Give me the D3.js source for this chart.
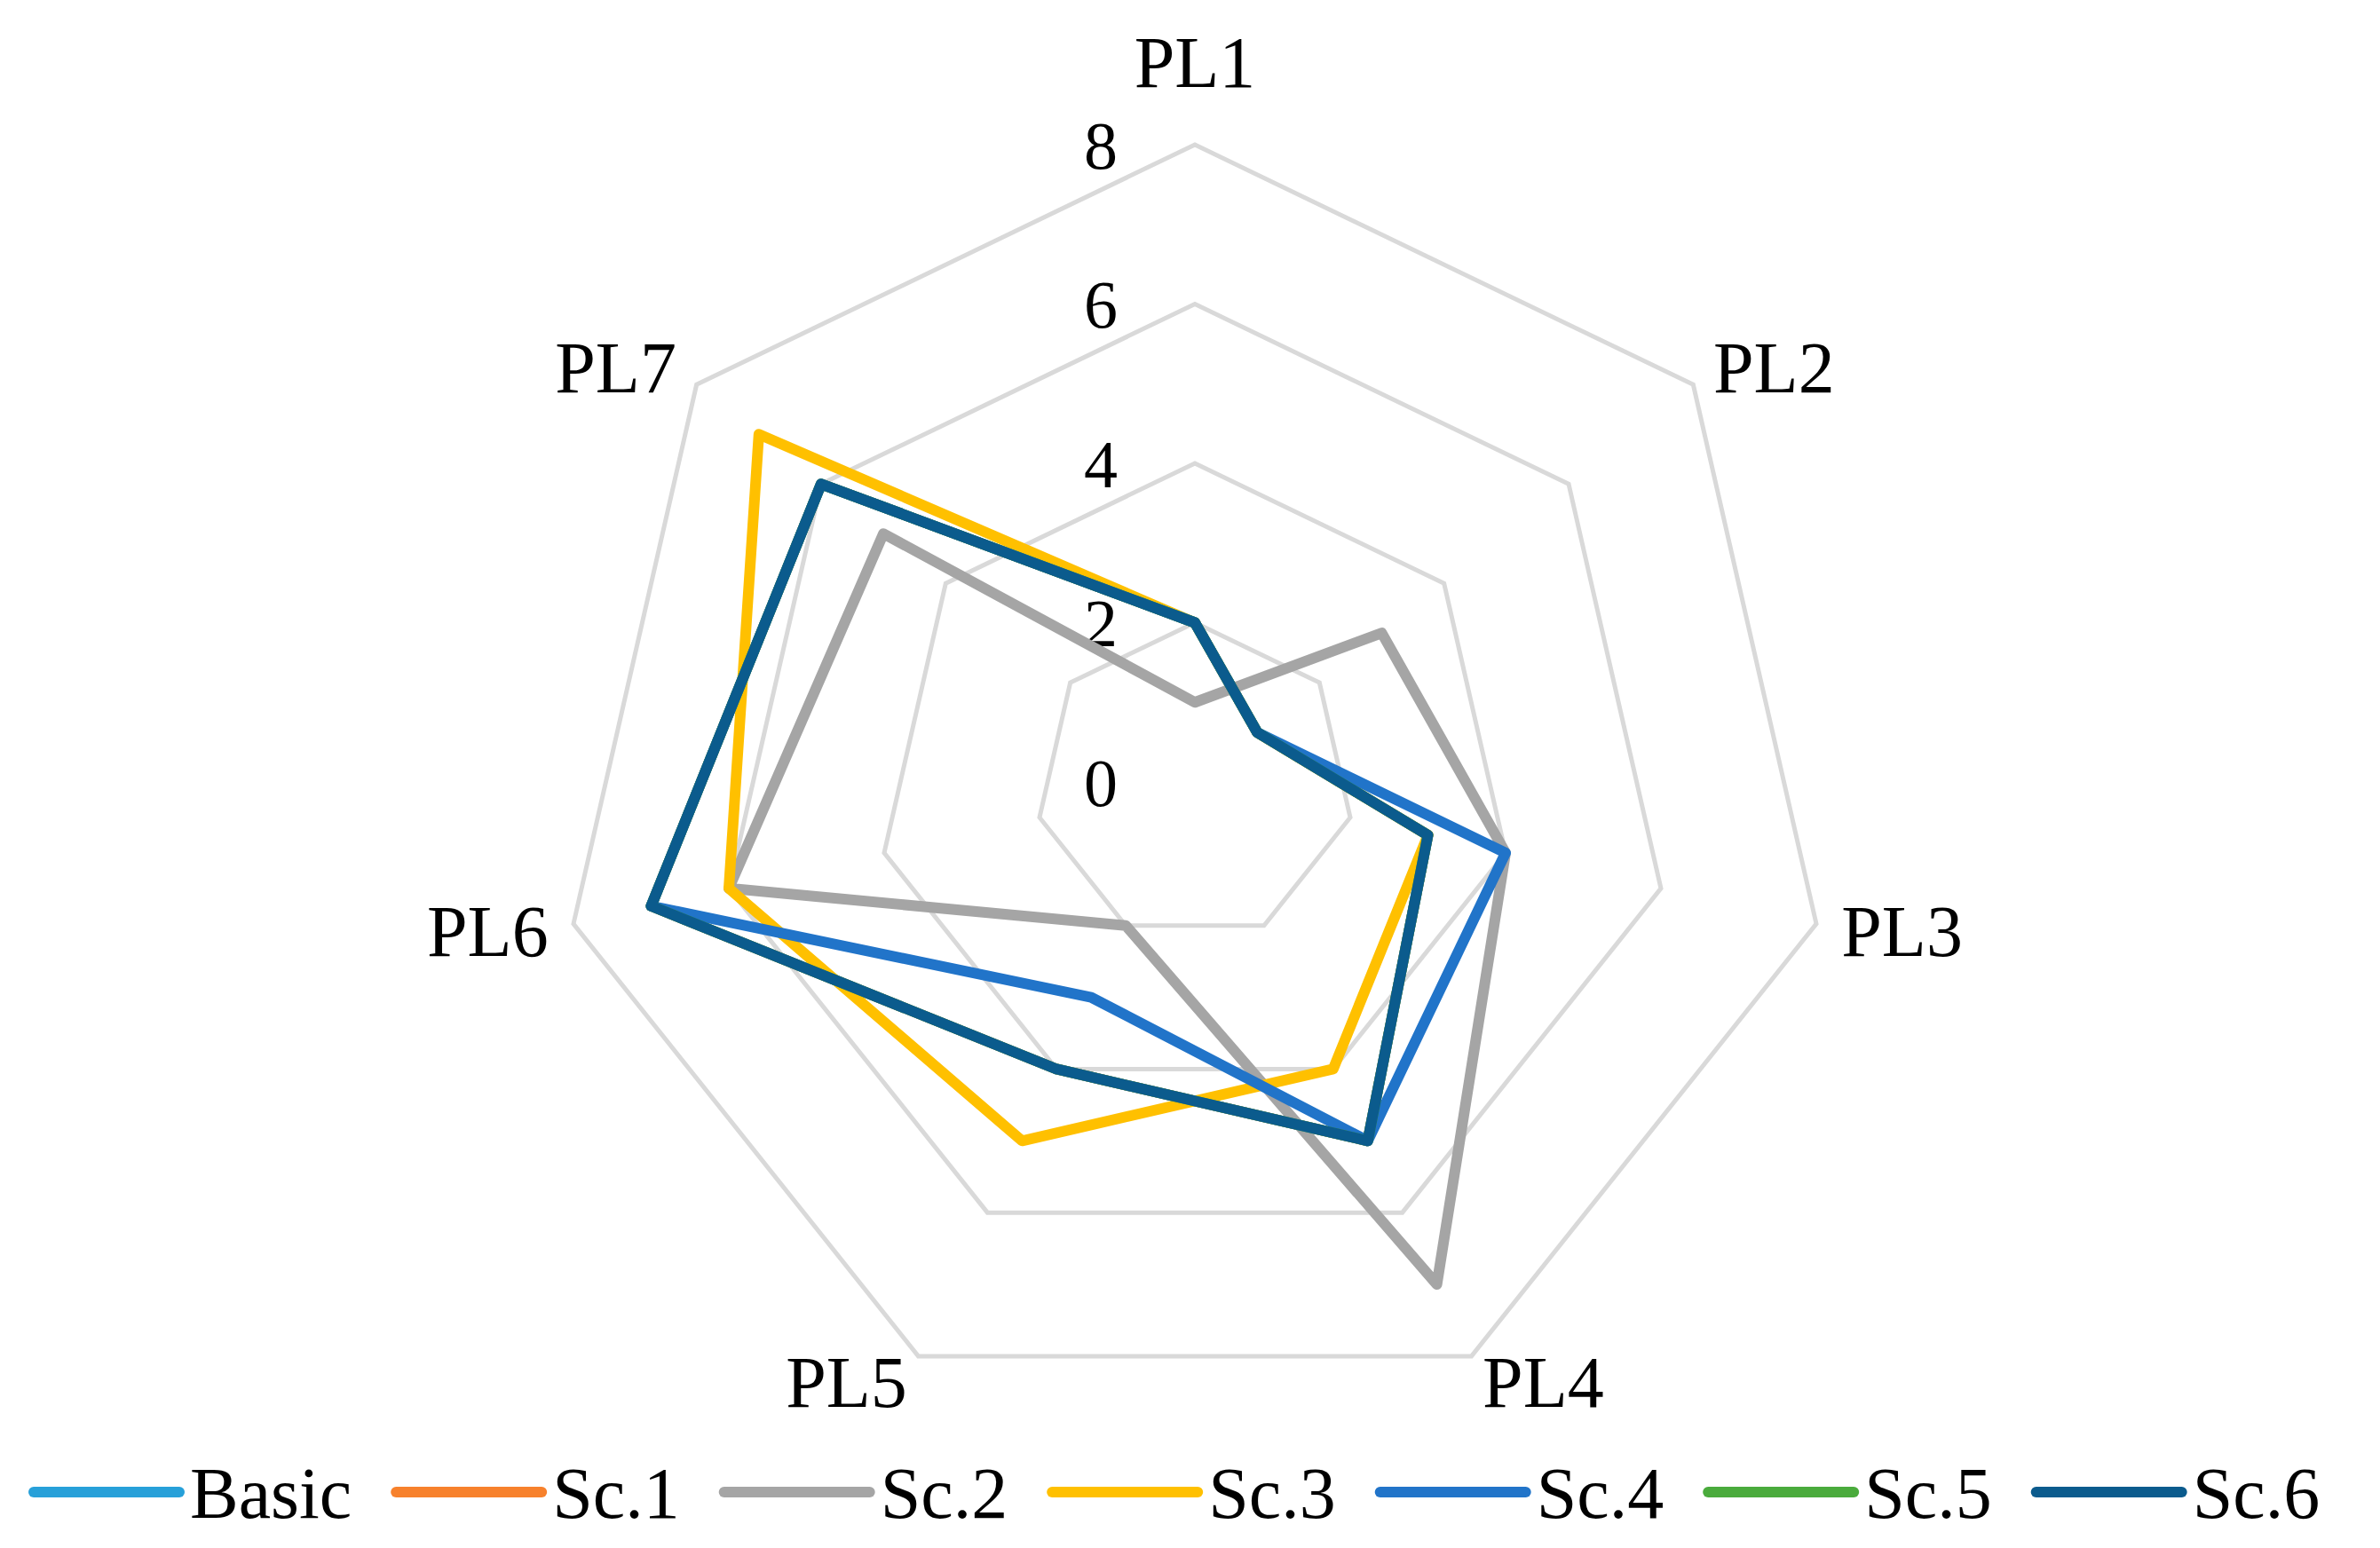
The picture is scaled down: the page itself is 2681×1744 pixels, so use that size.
<!DOCTYPE html>
<html><head><meta charset="utf-8">
<script src="https://cdn.jsdelivr.net/npm/d3@7"></script>
<style>body{margin:0;background:#fff}</style>
</head><body>
<svg id="c" width="2681" height="1744"></svg>
<script>
const axes = ["PL1","PL2","PL3","PL4","PL5","PL6","PL7"];
const seriesNames = ["Basic","Sc.1","Sc.2","Sc.3","Sc.4","Sc.5","Sc.6"];
const colors = ["#27a0d9","#f7812c","#a5a5a5","#ffc000","#2174c9","#4aab3c","#0b5b8d"];
const basic = [2,1,3,5,4,7,6];
const sc1   = [2,1,3,5,4,7,6];
const sc2   = [1,3,4,7,2,6,5];
const sc3   = [2,1,3,4,5,6,7];
const sc4   = [2,1,4,5,3,7,6];
const sc5   = [2,1,3,5,4,7,6];
const sc6   = [2,1,3,5,4,7,6];
const values = [basic,sc1,sc2,sc3,sc4,sc5,sc6];
const ticks = [0,2,4,6,8];

const svg = d3.select("#c");
const cx = 1346, cy = 881, R = 718;
const font = "'Liberation Serif','DejaVu Serif',serif";
const r = d3.scaleLinear().domain([0,8]).range([0,R]);
const ang = d3.scaleLinear().domain([0,axes.length]).range([0,2*Math.PI]);
const pt = (i,v)=>[cx+r(v)*Math.sin(ang(i)), cy-r(v)*Math.cos(ang(i))];
const g = svg.append("g");
const line = d3.line();

ticks.filter(t=>t>0).forEach(t=>{
  g.append("path").attr("d", line(axes.map((a,i)=>pt(i,t)))+"Z")
   .attr("fill","none").attr("stroke","#d9d9d9").attr("stroke-width",5);
});
ticks.forEach(t=>{
  g.append("text").attr("x",cx-106).attr("y",cy-r(t)).attr("dy","0.35em")
   .attr("text-anchor","middle").attr("font-family",font).attr("font-size",76).attr("fill","#000").text(t);
});
axes.forEach((a,i)=>{
  const [x,y]=pt(i,8);
  const s=Math.sin(ang(i)), c=Math.cos(ang(i));
  const anchor = s>0.1?"start":(s<-0.1?"end":"middle");
  const dy = -32*c + (anchor==="middle"?-62:0);
  g.append("text").attr("x",x+29*s).attr("y",y+dy).attr("dy","0.35em")
   .attr("text-anchor",anchor).attr("font-family",font).attr("font-size",82).attr("fill","#000").text(a);
});
values.forEach((vals,s)=>{
  g.append("path").attr("d", line(vals.map((v,i)=>pt(i,v)))+"Z")
   .attr("fill","none").attr("stroke",colors[s]).attr("stroke-width",12).attr("stroke-linejoin","round");
});
let lx = 38; const ly = 1681;
seriesNames.forEach((n,s)=>{
  g.append("line").attr("x1",lx).attr("x2",lx+164).attr("y1",ly).attr("y2",ly)
   .attr("stroke",colors[s]).attr("stroke-width",12).attr("stroke-linecap","round");
  const t = g.append("text").attr("x",lx+176).attr("y",ly).attr("dy","0.35em")
   .attr("font-family",font).attr("font-size",82).attr("fill","#000").text(n);
  lx += 176 + t.node().getComputedTextLength() + 50;
});
</script>
</body></html>
